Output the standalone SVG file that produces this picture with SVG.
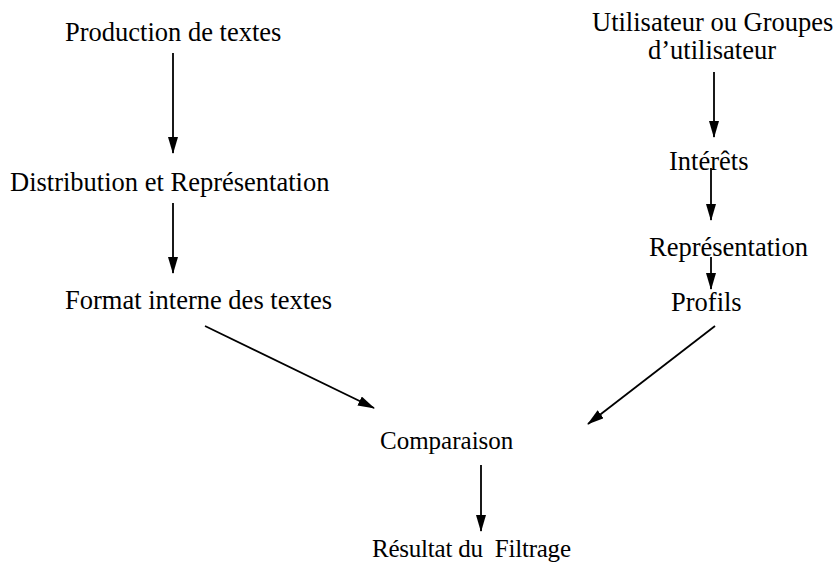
<svg xmlns="http://www.w3.org/2000/svg" width="834" height="565" viewBox="0 0 834 565">
<style>
text{font-family:"Liberation Serif","Times New Roman",serif;font-size:26.5px;fill:#000}
text.s{font-size:25px}
.c line{stroke:#000;stroke-width:1.8;fill:none}
</style>
<defs>
<marker id="ah" markerUnits="userSpaceOnUse" markerWidth="17" markerHeight="10" viewBox="0 0 17 10" refX="16" refY="5" orient="auto">
<path d="M0,0 L17,5 L0,10 Z" fill="#000"/>
</marker>
</defs>
<rect width="834" height="565" fill="#fff"/>
<g id="n-production"><text x="65" y="41">Production de textes</text></g>
<g id="n-distribution"><text x="10" y="191">Distribution et Représentation</text></g>
<g id="n-format"><text x="65" y="309">Format interne des textes</text></g>
<g id="n-utilisateur"><text x="592" y="31">Utilisateur ou Groupes</text><text x="648" y="59">d’utilisateur</text></g>
<g id="n-interets"><text x="669" y="170">Intérêts</text></g>
<g id="n-representation"><text x="649" y="256">Représentation</text></g>
<g id="n-profils"><text x="671" y="311">Profils</text></g>
<g id="n-comparaison"><text class="s" x="380" y="449">Comparaison</text></g>
<g id="n-resultat"><text class="s" x="372" y="557" xml:space="preserve" textLength="199">Résultat du  Filtrage</text></g>
<g class="c" id="connectors">
<line x1="173" y1="53" x2="173" y2="153" marker-end="url(#ah)"/>
<line x1="173" y1="203" x2="173" y2="273" marker-end="url(#ah)"/>
<line x1="205" y1="326" x2="374" y2="408" marker-end="url(#ah)"/>
<line x1="714" y1="72" x2="714" y2="137" marker-end="url(#ah)"/>
<line x1="711" y1="168" x2="711" y2="220" marker-end="url(#ah)"/>
<line x1="711" y1="257" x2="711" y2="289" marker-end="url(#ah)"/>
<line x1="715" y1="326" x2="588" y2="424" marker-end="url(#ah)"/>
<line x1="481" y1="465" x2="481" y2="531" marker-end="url(#ah)"/>
</g>
</svg>
